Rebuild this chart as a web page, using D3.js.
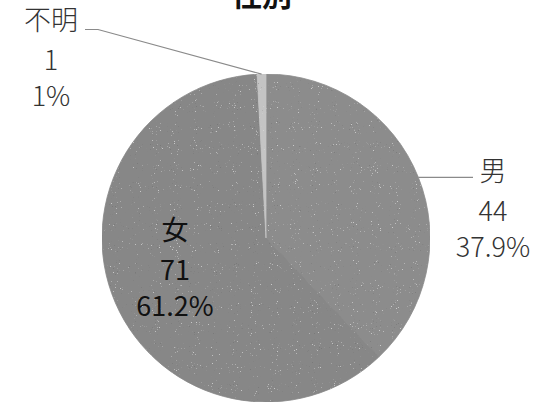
<!DOCTYPE html>
<html>
<head>
<meta charset="utf-8">
<script src="https://cdn.jsdelivr.net/npm/d3@7"></script>
<style>
  html, body { margin: 0; padding: 0; background: #fff; }
  svg { display: block; }
  text { font-family: "Noto Sans CJK JP", "Noto Sans", sans-serif; }
</style>
</head>
<body>
<script>
// 性別 breakdown: category, count, share shown in the label
const categories = ["男", "女", "不明"];
const counts = [44, 71, 1];
const shares = ["37.9%", "61.2%", "1%"];
const title = "性別";

const W = 542, H = 405;
const cx = 266, cy = 238, R = 164;

const svg = d3.select("body").append("svg")
  .attr("width", W).attr("height", H);

// sparse speckle grain over the slices
const defs = svg.append("defs");
const grain = defs.append("filter").attr("id", "grain")
  .attr("x", 0).attr("y", 0).attr("width", 1).attr("height", 1);
grain.append("feTurbulence").attr("type", "fractalNoise")
  .attr("baseFrequency", 0.95).attr("numOctaves", 2).attr("seed", 3).attr("result", "n");
grain.append("feColorMatrix").attr("in", "n").attr("type", "matrix")
  .attr("values", "0 0 0 0 1  0 0 0 0 1  0 0 0 0 1  0 0 0 10 -7.3").attr("result", "light");
grain.append("feComponentTransfer").attr("in", "light").attr("result", "lightSoft")
  .append("feFuncA").attr("type", "linear").attr("slope", 0.45);
grain.append("feColorMatrix").attr("in", "n").attr("type", "matrix")
  .attr("values", "0 0 0 0 0.15  0 0 0 0 0.15  0 0 0 0 0.15  0 0 0 -10 2.6").attr("result", "dark");
grain.append("feComponentTransfer").attr("in", "dark").attr("result", "darkSoft")
  .append("feFuncA").attr("type", "linear").attr("slope", 0.5);
grain.append("feComposite").attr("in", "lightSoft").attr("in2", "SourceGraphic").attr("operator", "in").attr("result", "lightIn");
grain.append("feComposite").attr("in", "darkSoft").attr("in2", "SourceGraphic").attr("operator", "in").attr("result", "darkIn");
grain.append("feMerge").selectAll("feMergeNode")
  .data(["SourceGraphic", "lightIn", "darkIn"]).join("feMergeNode").attr("in", d => d);

const color = d3.scaleOrdinal()
  .domain(categories)
  .range(["#8c8c8c", "#878787", "#c4c4c4"]);

const data = categories.map((c, i) => ({ cat: c, value: counts[i], share: shares[i] }));

const pie = d3.pie().value(d => d.value).sort(null);
const arcs = pie(data);
const arc = d3.arc().innerRadius(0).outerRadius(R);
const edge = d3.arc().innerRadius(R).outerRadius(R);

// slices; each stroked in its own fill so neighbouring slices meet without a seam
const g = svg.append("g").attr("transform", `translate(${cx},${cy})`);
g.append("g").attr("filter", "url(#grain)")
  .selectAll("path").data(arcs).join("path")
  .attr("d", arc)
  .attr("fill", d => color(d.data.cat))
  .attr("stroke", d => color(d.data.cat))
  .attr("stroke-width", 0.8)
  .attr("stroke-linejoin", "round");

// title, partly above the top edge
svg.append("text")
  .attr("x", 262).attr("y", 6)
  .attr("text-anchor", "middle")
  .attr("font-size", 30).attr("font-weight", 700)
  .attr("fill", "#111")
  .text(title);

const lineGap = [0, 40, 36];

function label(x, y, d, fill, weight) {
  const t = svg.append("text")
    .attr("text-anchor", "middle")
    .attr("font-size", 27)
    .attr("font-weight", weight)
    .attr("fill", fill);
  [d.data.cat, String(d.data.value), d.data.share].forEach((s, i) => {
    t.append("tspan").attr("x", x)
      .attr("y", y + d3.sum(lineGap.slice(0, i + 1)))
      .text(s);
  });
}

// 男: leader goes right from the slice's rim midpoint
const male = arcs[0];
const [mx, my] = edge.centroid(male);
svg.append("polyline")
  .attr("points", [[cx + mx, cy + my], [473, cy + my]].map(p => p.join(",")).join(" "))
  .attr("fill", "none").attr("stroke", "#8a8a8a").attr("stroke-width", 1.2);
label(493, 181, male, "#333", 300);

// 女: label inside the slice
const female = arcs[1];
label(175, 240, female, "#111", 400);

// 不明: leader bends out to the upper left
const unk = arcs[2];
const [ux, uy] = edge.centroid(unk);
svg.append("polyline")
  .attr("points", [[cx + ux, cy + uy], [98, 29.5], [85, 29.5]].map(p => p.join(",")).join(" "))
  .attr("fill", "none").attr("stroke", "#8a8a8a").attr("stroke-width", 1.2);
label(51, 30, unk, "#333", 300);
</script>
</body>
</html>
